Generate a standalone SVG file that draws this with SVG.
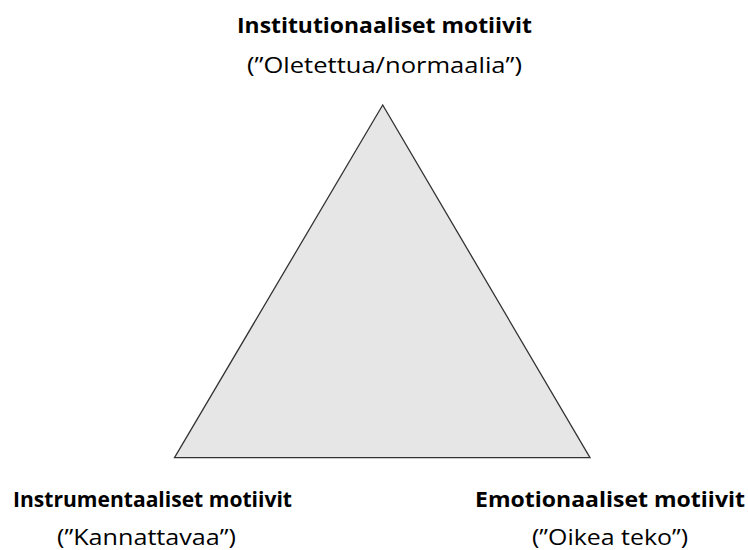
<svg xmlns="http://www.w3.org/2000/svg" width="748" height="550" viewBox="0 0 748 550">
<style>
text{font-family:"Open Sans","Liberation Sans",sans-serif;font-size:21px;fill:#000}
.t{font-weight:bold}
.tri{fill:#e6e6e6;stroke:#333;stroke-width:1.3}
</style>
<rect width="748" height="550" fill="#fff"/>
<g id="triangle"><polygon class="tri" points="382.7,105 174.5,457.7 590,457.7"/></g>
<g id="connectors"></g>
<g id="top">
<text class="t" x="237" y="33" textLength="295" lengthAdjust="spacingAndGlyphs">Institutionaaliset motiivit</text>
<text x="247" y="73" textLength="275" lengthAdjust="spacingAndGlyphs">(”Oletettua/normaalia”)</text>
</g>
<g id="left">
<text class="t" x="13" y="507" textLength="279" lengthAdjust="spacingAndGlyphs">Instrumentaaliset motiivit</text>
<text x="57" y="545" textLength="179" lengthAdjust="spacingAndGlyphs">(”Kannattavaa”)</text>
</g>
<g id="right">
<text class="t" x="475" y="507" textLength="270" lengthAdjust="spacingAndGlyphs">Emotionaaliset motiivit</text>
<text x="532" y="545" textLength="156" lengthAdjust="spacingAndGlyphs">(”Oikea teko”)</text>
</g>
</svg>
